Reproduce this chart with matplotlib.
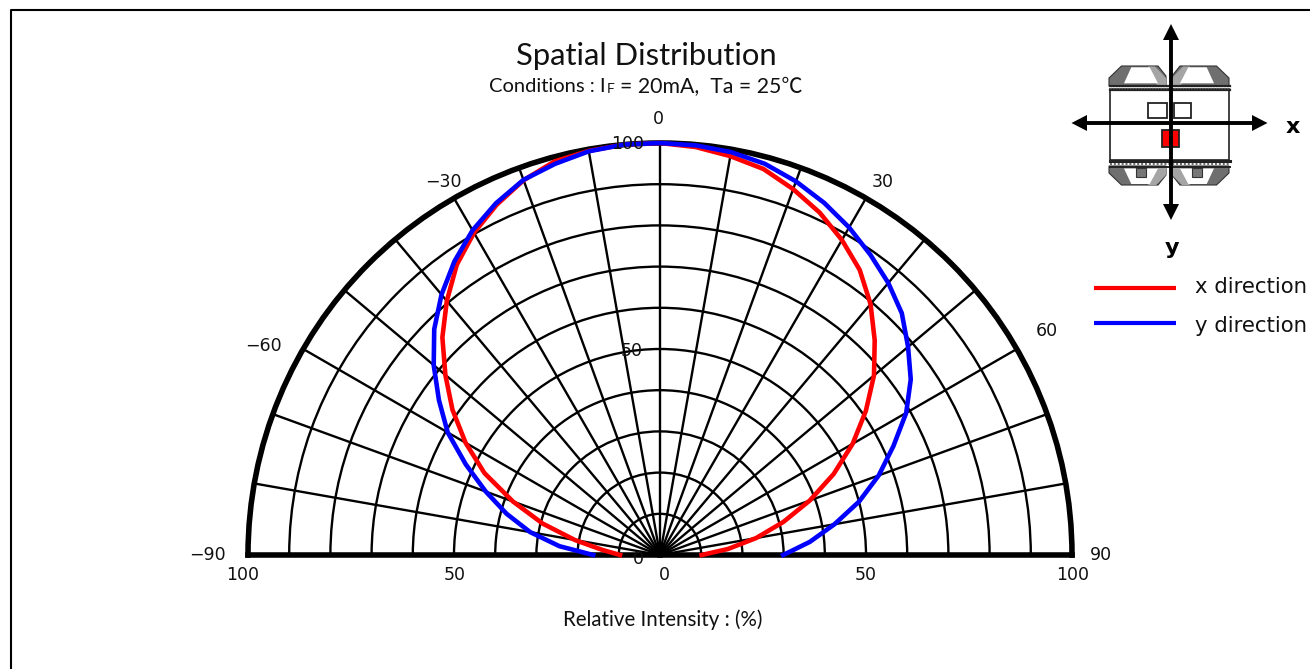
import numpy as np
import matplotlib
matplotlib.use("Agg")
import matplotlib.pyplot as plt
from matplotlib.patches import Polygon, Rectangle

W, H = 1310, 669
TITLE = "Spatial Distribution"
XLABEL = "Relative Intensity : (%)"
SERIES_X = "x direction"
SERIES_Y = "y direction"

angles_deg = [-90, -85, -80, -75, -70, -65, -60, -55, -50, -45, -40, -35, -30, -25, -20, -15, -10, -5,
              0, 5, 10, 15, 20, 25, 30, 35, 40, 45, 50, 55, 60, 65, 70, 75, 80, 85, 90]
x_direction = [9.7, 14, 21, 29.5, 38, 47, 54.5, 61.5, 68, 74.7, 80.5, 86, 90.3, 93.8, 96.8, 98.9, 99.6, 100,
               100, 99.4, 98.3, 97, 94.5, 91.7, 88.3, 84.5, 79.5, 73.7, 67.8, 61, 54, 46.5, 38.7, 31, 23.7, 16.5, 10.1]
y_direction = [16.2, 24.5, 32, 38.5, 45, 52, 59.5, 65.5, 71.7, 77.5, 82.5, 87, 91, 94.2, 96.9, 98.3, 99.5, 100,
               100, 99.8, 99.3, 98.3, 96.5, 94.3, 91.8, 89, 86.2, 83, 78.6, 74.3, 69, 62.5, 56.5, 50, 43, 36.5, 29.9]
radial_ticks = [10, 20, 30, 40, 50, 60, 70, 80, 90, 100]
angle_ticks = list(range(-90, 100, 10))

CX, CY, R = 660, 555, 412
fig = plt.figure(figsize=(W / 100, H / 100), dpi=100, facecolor="white")

# a half-disc polar wedge is centred inside a square box
box_top = CY - R / 2 - R
ax = fig.add_axes([(CX - R) / W, 1 - (box_top + 2 * R) / H, 2 * R / W, 2 * R / H], projection="polar")
ax.set_theta_zero_location("N")
ax.set_theta_direction(-1)
ax.set_thetalim(np.deg2rad(-90), np.deg2rad(90))
ax.set_rlim(0, 100)
ax.set_thetagrids(angle_ticks, labels=[""] * len(angle_ticks))
ax.set_rgrids(radial_ticks, labels=[""] * len(radial_ticks))
ax.grid(True, color="black", lw=1.7)
ax.tick_params(length=0)
for s in ax.spines.values():
    s.set_linewidth(4.0)
    s.set_color("black")
ax.patch.set_alpha(0)

th = np.deg2rad(angles_deg)
ax.plot(th, x_direction, color="#ff0000", lw=3.3, zorder=5, clip_on=False)
ax.plot(th, y_direction, color="#0000ff", lw=3.3, zorder=6, clip_on=False)

# overlay in reference pixels for annotation and inset schematic
ov = fig.add_axes([0, 0, 1, 1], zorder=10)
ov.set_xlim(0, W)
ov.set_ylim(H, 0)
ov.axis("off")
ov.patch.set_alpha(0)

ov.plot([11, 11, W], [H, 9.5, 9.5], color="black", lw=1.5, clip_on=False)

TF = ["Lato", "Noto Sans CJK JP"]
ov.text(646.5, 55.5, TITLE, ha="center", va="center", fontsize=22.3, family=TF, color="#111111")
ov.text(606, 87, "Conditions : I", ha="right", va="center", fontsize=14.5, family=TF, color="#111111")
ov.text(607, 89, "F", ha="left", va="center", fontsize=10, family=TF, color="#111111")
ov.text(803, 87, "= 20mA,  Ta = 25\u2103", ha="right", va="center", fontsize=15.3, family=TF, color="#111111")
ov.text(663, 620, XLABEL, ha="center", va="center", fontsize=14.8, family=TF, color="#111111")

NF = "DejaVu Sans"
nfs = 12.5
for s, x, y in [("0", 658, 119), ("\u221230", 443, 182), ("30", 883, 182), ("\u221260", 263, 346),
                ("60", 1047, 331), ("\u221290", 207, 555), ("90", 1101, 555),
                ("100", 243, 575), ("50", 455, 575), ("0", 664, 575), ("50", 866, 575), ("100", 1073, 575),
                ("100", 628, 144), ("50", 632, 351), ("0", 638, 559)]:
    ov.text(x, y, s, ha="center", va="center", fontsize=nfs, family=NF, color="#111111")

# legend
ov.plot([1094, 1176], [288, 288], color="#ff0000", lw=3.0, solid_capstyle="butt")
ov.plot([1094, 1176], [322.5, 322.5], color="#0000ff", lw=3.0, solid_capstyle="butt")
ov.text(1195, 287, SERIES_X, ha="left", va="center", fontsize=15.3, family=NF, color="#111111")
ov.text(1195, 326, SERIES_Y, ha="left", va="center", fontsize=15.3, family=NF, color="#111111")

# schematic
MID = 1169
for sx in (1, -1):
    def P(pts):
        return [(MID + sx * a, b) for a, b in pts]
    # top lead frame
    ov.add_patch(Polygon(P([(3, 86), (3, 76), (11, 66), (47.5, 66), (60, 78), (60, 86)]),
                         closed=True, fc="#6f6f6f", ec="#333333", lw=0.8))
    ov.add_patch(Polygon(P([(3, 85), (3, 78), (14, 66.5), (21, 66.5), (12, 85)]),
                         closed=True, fc="#a5a5a5", ec="none"))
    ov.add_patch(Polygon(P([(11, 83.3), (19.3, 67.3), (37.7, 67.3), (45, 83.3)]),
                         closed=True, fc="white", ec="none"))
    # bottom lead frame
    ov.add_patch(Polygon(P([(3, 166), (3, 175), (11, 185), (47.5, 185), (60, 173), (60, 166)]),
                         closed=True, fc="#6f6f6f", ec="#333333", lw=0.8))
    ov.add_patch(Polygon(P([(3, 167), (3, 175), (13, 185), (21, 185), (11, 167)]),
                         closed=True, fc="#a5a5a5", ec="none"))
    ov.add_patch(Polygon(P([(11, 168.5), (19.3, 184), (37.7, 184), (45, 168.5)]),
                         closed=True, fc="white", ec="none"))
    ov.add_patch(Polygon(P([(22.7, 168), (22.7, 177), (32.7, 177), (32.7, 168)]),
                         closed=True, fc="#777777", ec="#333333", lw=0.8))
ov.add_patch(Rectangle((1110, 89), 118.5, 71, fc="white", ec="#222222", lw=1.2))
for y0, lw0 in [(85.5, 1.6), (89.5, 1.6), (160.5, 2.2), (166.5, 1.4)]:
    ov.plot([1109.5, 1229.5], [y0, y0], color="#222222", lw=lw0)
ov.plot([1109.5, 1229.5], [87.5, 87.5], color="#666666", lw=1.0, ls=(0, (1, 1)))
ov.plot([1109.5, 1229.5], [163.5, 163.5], color="#666666", lw=1.4, ls=(0, (1, 1)))
ov.add_patch(Rectangle((1148.3, 102.7), 18.4, 15.6, fc="white", ec="#222222", lw=1.3))
ov.add_patch(Rectangle((1174, 102.7), 16.7, 15.6, fc="white", ec="#222222", lw=1.3))
ov.add_patch(Rectangle((1162.3, 130), 16.7, 16.7, fc="#ff0000", ec="#222222", lw=1.3))
ov.plot([1085, 1255], [123, 123], color="black", lw=2.8)
ov.plot([1171, 1171], [38, 208], color="black", lw=2.8)
ov.add_patch(Polygon([(1071.5, 123), (1087, 115), (1087, 131)], closed=True, fc="black", ec="none"))
ov.add_patch(Polygon([(1267.5, 123), (1252, 115), (1252, 131)], closed=True, fc="black", ec="none"))
ov.add_patch(Polygon([(1171, 24), (1163, 40), (1179, 40)], closed=True, fc="black", ec="none"))
ov.add_patch(Polygon([(1171, 220), (1163, 204), (1179, 204)], closed=True, fc="black", ec="none"))
ov.text(1293, 127, "x", ha="center", va="center", fontsize=16, weight="bold", family=NF, color="black")
ov.text(1172, 248, "y", ha="center", va="center", fontsize=16, weight="bold", family=NF, color="black")

fig.savefig("out.png", dpi=100, facecolor="white")
